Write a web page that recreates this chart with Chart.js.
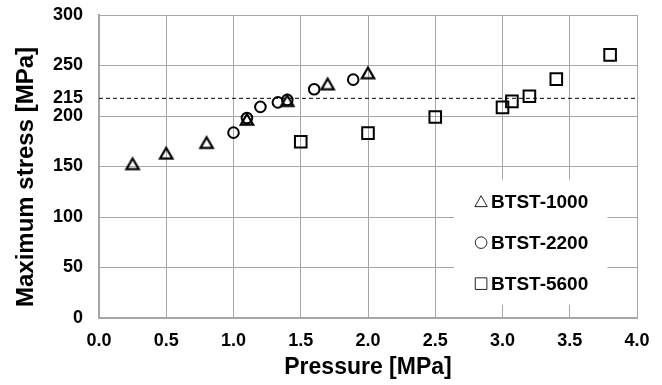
<!DOCTYPE html>
<html>
<head>
<meta charset="utf-8">
<script src="https://cdn.jsdelivr.net/npm/chart.js@4.4.1/dist/chart.umd.min.js"></script>
<style>
  html, body { margin: 0; padding: 0; background: #fff; }
  #wrap { width: 662px; height: 385px; }
</style>
</head>
<body>
<div id="wrap"><canvas id="stressChart"></canvas></div>
<script>
// values
const seriesNames = ['BTST-1000', 'BTST-2200', 'BTST-5600'];
const pressure1000 = [0.25, 0.5, 0.8, 1.1, 1.4, 1.7, 2.0];
const stress1000 = [153, 163.5, 174, 197, 215.5, 232, 243];
const pressure2200 = [1.0, 1.1, 1.2, 1.33, 1.4, 1.6, 1.89];
const stress2200 = [183.5, 198, 209, 213.5, 216, 226.5, 236];
const pressure5600 = [1.5, 2.0, 2.5, 3.0, 3.07, 3.2, 3.4, 3.8];
const stress5600 = [174.5, 183, 199, 208.5, 214.5, 219.5, 236.5, 260.5];
// the dashed "215" line sits slightly above 215 in the original drawing
const limitLine = 217.5;
const yTicks = [0, 50, 100, 150, 200, limitLine, 250, 300];
const yTickLabels = ['0', '50', '100', '150', '200', '215', '250', '300'];
const xTitle = 'Pressure [MPa]';
const yTitle = 'Maximum stress [MPa]';

const gridGray = '#a6a6a6';
const font = 'Liberation Sans, Arial, sans-serif';

function toPoints(xs, ys) {
  return xs.map((x, i) => ({ x: x, y: ys[i] }));
}

// open triangle centred on its bounding box (like the original markers)
const triMarker = document.createElement('canvas');
triMarker.width = 18;
triMarker.height = 18;
(function () {
  const t = triMarker.getContext('2d');
  t.strokeStyle = '#000';
  t.lineWidth = 2.2;
  t.lineJoin = 'miter';
  t.beginPath();
  t.moveTo(9, 4);
  t.lineTo(15.2, 14.7);
  t.lineTo(2.8, 14.7);
  t.closePath();
  t.stroke();
})();

// y title sits a bit below the middle of the axis in the original, so draw it by hand
const yTitlePlugin = {
  id: 'yTitlePlugin',
  afterDraw(chart) {
    const ctx = chart.ctx;
    ctx.save();
    ctx.translate(26, 177);
    ctx.rotate(-Math.PI / 2);
    ctx.font = 'bold 24px ' + font;
    ctx.fillStyle = '#000';
    ctx.textAlign = 'center';
    ctx.textBaseline = 'middle';
    ctx.fillText(yTitle, 0, 0);
    ctx.restore();
  }
};

// legend drawn inside the plot on a white box
const innerLegend = {
  id: 'innerLegend',
  afterDatasetsDraw(chart) {
    const ctx = chart.ctx;
    const xs = chart.scales.x, ys = chart.scales.y;
    const left = xs.getPixelForValue(2.64), right = xs.getPixelForValue(3.78);
    const top = ys.getPixelForValue(137), bottom = ys.getPixelForValue(13);
    ctx.save();
    ctx.fillStyle = '#fff';
    ctx.fillRect(left, top, right - left, bottom - top);
    const styles = ['triangle', 'circle', 'rect'];
    ctx.font = 'bold 19px ' + font;
    ctx.textBaseline = 'middle';
    ctx.fillStyle = '#000';
    seriesNames.forEach((name, i) => {
      const cy = top + 22 + i * 41;
      const cx = left + 27;
      ctx.strokeStyle = '#222';
      ctx.lineWidth = 1;
      ctx.beginPath();
      if (styles[i] === 'triangle') {
        ctx.moveTo(cx, cy - 6);
        ctx.lineTo(cx + 6.2, cy + 5);
        ctx.lineTo(cx - 6.2, cy + 5);
        ctx.closePath();
      } else if (styles[i] === 'circle') {
        ctx.arc(cx, cy, 5.8, 0, Math.PI * 2);
      } else {
        ctx.rect(cx - 5.8, cy - 5.8, 11.6, 11.6);
      }
      ctx.stroke();
      ctx.fillText(name, cx + 10, cy + 1);
    });
    ctx.restore();
  }
};

const ctx = document.getElementById('stressChart').getContext('2d');
new Chart(ctx, {
  type: 'scatter',
  data: {
    datasets: [
      {
        label: 'limit',
        type: 'line',
        data: [{ x: 0, y: limitLine }, { x: 4, y: limitLine }],
        borderColor: '#000',
        borderWidth: 1,
        borderDash: [4, 3],
        pointRadius: 0,
        order: 4
      },
      {
        label: seriesNames[0],
        data: toPoints(pressure1000, stress1000),
        pointStyle: triMarker,
        pointRadius: 7
      },
      {
        label: seriesNames[1],
        data: toPoints(pressure2200, stress2200),
        pointStyle: 'circle',
        pointRadius: 5.3,
        pointBorderWidth: 2,
        pointBorderColor: '#000',
        pointBackgroundColor: 'rgba(0,0,0,0)'
      },
      {
        label: seriesNames[2],
        data: toPoints(pressure5600, stress5600),
        pointStyle: 'rect',
        pointRadius: 8.2,
        pointBorderWidth: 2,
        pointBorderColor: '#000',
        pointBackgroundColor: 'rgba(0,0,0,0)'
      }
    ]
  },
  options: {
    responsive: true,
    maintainAspectRatio: false,
    animation: false,
    layout: { padding: { left: 0, top: 15, right: 25, bottom: 0 } },
    plugins: {
      legend: { display: false },
      tooltip: { enabled: false }
    },
    scales: {
      x: {
        type: 'linear',
        min: 0,
        max: 4,
        ticks: {
          stepSize: 0.5,
          padding: 12,
          color: '#000',
          font: { family: font, size: 18, weight: 'bold' },
          callback: v => v.toFixed(1)
        },
        grid: { color: gridGray, lineWidth: 1, drawTicks: false },
        border: { color: gridGray, width: 2 },
        title: {
          display: true,
          text: xTitle,
          color: '#000',
          font: { family: font, size: 23, weight: 'bold' },
          padding: { top: 0, bottom: 4 }
        },
        afterFit: s => {
          s.height = 67;
          s.paddingLeft = 0;
          s.paddingRight = 0;
        }
      },
      y: {
        type: 'linear',
        min: 0,
        max: 300,
        afterBuildTicks: s => { s.ticks = yTicks.map(v => ({ value: v })); },
        ticks: {
          padding: 16,
          color: '#000',
          font: { family: font, size: 18, weight: 'bold' },
          callback: (v, i) => yTickLabels[i]
        },
        grid: {
          color: c => (c.tick && c.tick.value === limitLine) ? 'rgba(0,0,0,0)' : gridGray,
          lineWidth: 1,
          drawTicks: false
        },
        border: { color: gridGray, width: 2 },
        afterFit: s => {
          s.width = 99;
          s.paddingTop = 0;
          s.paddingBottom = 0;
        }
      }
    }
  },
  plugins: [innerLegend, yTitlePlugin]
});
</script>
</body>
</html>
